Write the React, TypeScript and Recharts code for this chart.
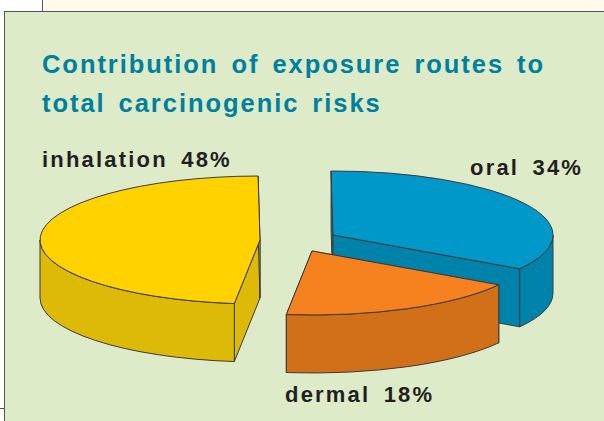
import React from 'react';
import { PieChart, Pie } from 'recharts';

const routes = ['oral', 'dermal', 'inhalation'];
const shares = [34, 18, 48];
const titleLines = ['Contribution of exposure routes to', 'total carcinogenic risks'];

const data = routes.map((name, i) => ({ name, value: shares[i] }));

const RX = 220;
const RY = 64;
const DEPTH = 58;

// each slice is pulled away from the middle by hand
const sliceStyles: Record<string, any> = {
  oral: { dx: 20, dy: -5, top: '#0098C9', side: '#0083AB', labelX: 470, labelY: 175 },
  dermal: { dx: -1, dy: 11, top: '#F5821F', side: '#D2701A', labelX: 285, labelY: 402 },
  inhalation: { dx: -53, dy: 0, top: '#FFD200', side: '#DDB908', labelX: 42, labelY: 167 },
};

const rad = (a: number) => (a * Math.PI) / 180;

const SliceShape = (props: any) => {
  const { cx, cy, startAngle, endAngle, name, payload } = props;
  const s = sliceStyles[name ?? payload?.name];
  const ox = cx + s.dx;
  const oy = cy + s.dy;
  const pt = (a: number, drop = 0) => [ox + RX * Math.cos(rad(a)), oy - RY * Math.sin(rad(a)) + drop];
  const p = (q: number[]) => `${q[0].toFixed(2)} ${q[1].toFixed(2)}`;
  const large = Math.abs(startAngle - endAngle) > 180 ? 1 : 0;

  const top = `M${ox} ${oy} L${p(pt(startAngle))} A${RX} ${RY} 0 ${large} 1 ${p(pt(endAngle))} Z`;
  const cut = (a: number) =>
    `M${ox} ${oy} L${p(pt(a))} L${p(pt(a, DEPTH))} L${ox} ${oy + DEPTH} Z`;

  // only the part of the rim facing the viewer
  const from = Math.min(startAngle, 0);
  const to = Math.max(endAngle, -180);
  const rim = `M${p(pt(from))} A${RX} ${RY} 0 0 1 ${p(pt(to))} L${p(pt(to, DEPTH))} A${RX} ${RY} 0 0 0 ${p(pt(from, DEPTH))} Z`;

  const common = { stroke: '#3A3A3C', strokeWidth: 1, strokeLinejoin: 'round' as const };
  return (
    <g>
      <path d={cut(startAngle)} fill={s.side} {...common} />
      <path d={cut(endAngle)} fill={s.side} {...common} />
      <path d={rim} fill={s.side} {...common} />
      <path d={top} fill={s.top} {...common} />
    </g>
  );
};

const renderLabel = (props: any) => {
  const name = props.name ?? props.payload?.name;
  const s = sliceStyles[name];
  return (
    <text
      x={s.labelX}
      y={s.labelY}
      fill="#231F20"
      fontFamily="Liberation Sans"
      fontWeight="bold"
      fontSize={22}
      letterSpacing={2.2}
      wordSpacing={5}
      textAnchor="start"
    >
      {`${name} ${props.value}%`}
    </text>
  );
};

export default function App() {
  return (
    <div style={{ position: 'absolute', left: 0, top: 0, width: 604, height: 421, overflow: 'hidden', background: '#fff' }}>
      <div style={{ position: 'absolute', left: 43, top: 0, width: 561, height: 11, background: '#FFFCEE' }} />
      <div style={{ position: 'absolute', left: 42, top: 0, width: 1, height: 11, background: '#555' }} />
      <div style={{ position: 'absolute', left: 0, top: 408, width: 4, height: 1, background: '#555' }} />
      <div
        style={{
          position: 'absolute',
          left: 4,
          top: 11,
          width: 620,
          height: 430,
          background: '#DDEBC9',
          border: '1px solid #555',
        }}
      />
      <div style={{ position: 'absolute', left: 0, top: 0 }}>
        <PieChart width={604} height={421} margin={{ top: 0, right: 0, bottom: 0, left: 0 }}>
          {titleLines.map((line, i) => (
            <text
              key={line}
              x={42}
              y={73 + i * 39}
              fill="#00809F"
              fontFamily="Liberation Sans"
              fontWeight="bold"
              fontSize={25.5}
              letterSpacing={1.95}
              wordSpacing={4}
            >
              {line}
            </text>
          ))}
          <Pie
            data={data}
            dataKey="value"
            nameKey="name"
            cx={313}
            cy={240}
            outerRadius={RX}
            startAngle={90.5}
            endAngle={-269.5}
            shape={SliceShape}
            label={renderLabel}
            labelLine={false}
            isAnimationActive={false}
          />
        </PieChart>
      </div>
    </div>
  );
}
